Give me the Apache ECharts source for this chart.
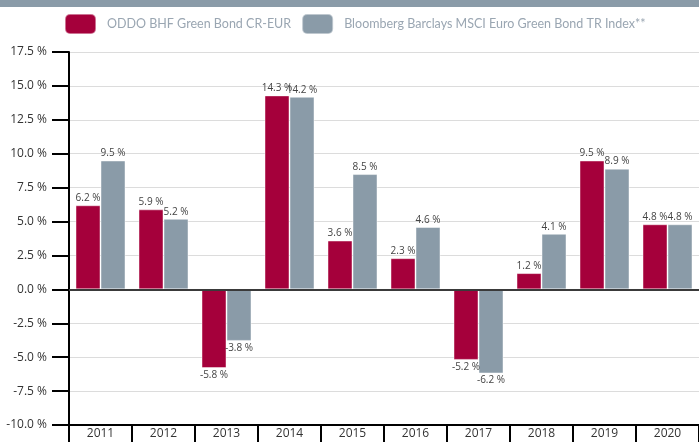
<!DOCTYPE html>
<html>
<head>
<meta charset="utf-8">
<script src="https://cdn.jsdelivr.net/npm/echarts@6/dist/echarts.min.js"></script>
<style>
  html, body { margin: 0; padding: 0; background: #fff; }
  #barChart { width: 699px; height: 442px; }
</style>
</head>
<body>
<div id="barChart"></div>
<script>
  var years = ['2011', '2012', '2013', '2014', '2015', '2016', '2017', '2018', '2019', '2020'];
  var fundName = 'ODDO BHF Green Bond CR-EUR';
  var indexName = 'Bloomberg Barclays MSCI Euro Green Bond TR Index**';
  var fundValues = [6.2, 5.9, -5.8, 14.3, 3.6, 2.3, -5.2, 1.2, 9.5, 4.8];
  var indexValues = [9.5, 5.2, -3.8, 14.2, 8.5, 4.6, -6.2, 4.1, 8.9, 4.8];

  // negative bars get their label underneath
  function toItems(arr) {
    return arr.map(function (v) {
      return { value: v, label: { position: v < 0 ? 'bottom' : 'top' } };
    });
  }

  var font = '"Open Sans", "Noto Sans", sans-serif';
  var barLabel = {
    show: true,
    distance: 2,
    color: '#444',
    fontSize: 10,
    fontFamily: font,
    formatter: function (p) { return p.value.toFixed(1) + ' %'; }
  };

  var diagram = echarts.init(document.getElementById('barChart'));
  diagram.setOption({
    animation: false,
    graphic: [{
      type: 'rect',
      shape: { x: 0, y: 0, width: 699, height: 7 },
      style: { fill: '#8A9BA8' }
    }],
    legend: {
      left: 64,
      top: 13,
      width: 900,
      padding: 0,
      itemWidth: 31,
      itemHeight: 20,
      itemGap: 10,
      icon: 'roundRect',
      textStyle: { color: '#9AA6B2', fontSize: 12.5, fontFamily: 'Lato, "Open Sans", sans-serif', padding: [0, 0, 0, 6] },
      data: [fundName, indexName]
    },
    grid: { left: 69, right: 0, top: 52, bottom: 17, containLabel: false },
    xAxis: {
      type: 'category',
      data: years,
      axisLine: { onZero: false, lineStyle: { color: '#000', width: 2 } },
      axisTick: { show: true, alignWithLabel: false, length: 17, lineStyle: { color: '#000', width: 2 } },
      axisLabel: { color: '#333', fontSize: 12, fontFamily: font, margin: 3 },
      splitLine: { show: false }
    },
    yAxis: {
      type: 'value',
      min: -10,
      max: 17.5,
      interval: 2.5,
      axisLine: { show: true, lineStyle: { color: '#000', width: 2 } },
      axisTick: { show: true, length: 17, lineStyle: { color: '#000', width: 2 } },
      axisLabel: {
        color: '#333', fontSize: 12, fontFamily: font, margin: 22,
        formatter: function (v) { return v.toFixed(1) + ' %'; }
      },
      splitLine: { lineStyle: { color: '#dcdcdc', width: 1 } }
    },
    series: [{
      name: fundName,
      type: 'bar',
      barWidth: 25,
      barGap: '0%',
      itemStyle: { color: '#A5003B', borderColor: 'rgba(255,255,255,0.45)', borderWidth: 1 },
      label: barLabel,
      data: toItems(fundValues),
      markLine: {
        silent: true,
        symbol: 'none',
        label: { show: false },
        lineStyle: { color: '#3a3a3a', width: 2, type: 'solid' },
        data: [{ yAxis: 0 }]
      }
    }, {
      name: indexName,
      type: 'bar',
      barWidth: 25,
      barGap: '0%',
      itemStyle: { color: '#8A9BA8', borderColor: 'rgba(255,255,255,0.45)', borderWidth: 1 },
      label: barLabel,
      data: toItems(indexValues)
    }]
  });
</script>
</body>
</html>
